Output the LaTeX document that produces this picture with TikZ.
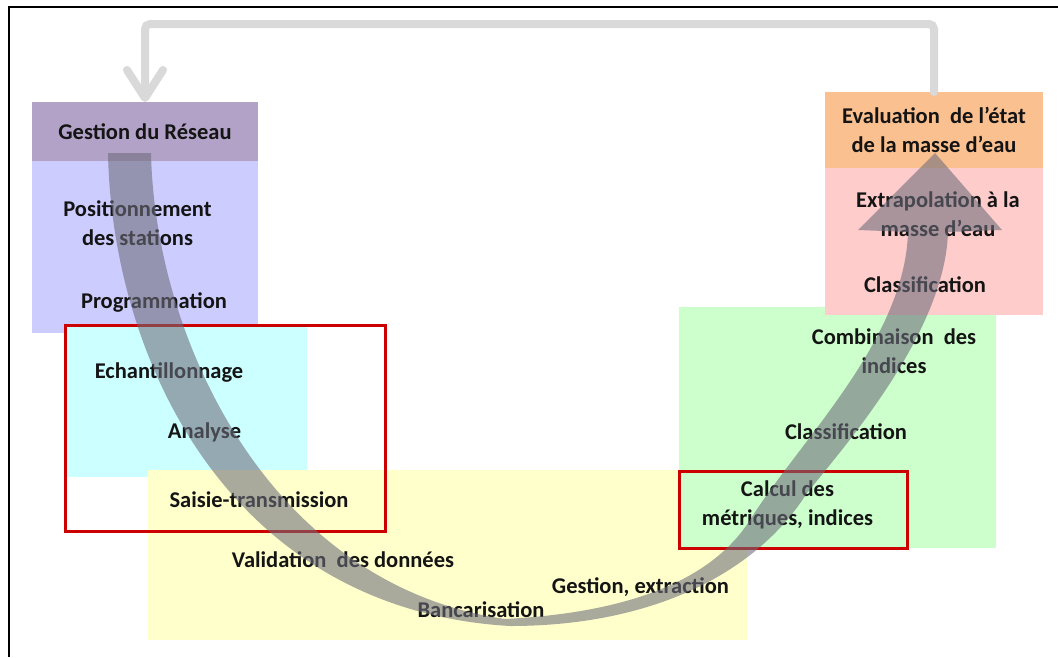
\documentclass[tikz,border=0pt]{standalone}
\usepackage{fontspec}
\setmainfont{Carlito}
\usetikzlibrary{arrows.meta}
\definecolor{cPurple}{HTML}{B3A2C7}
\definecolor{cLav}{HTML}{CCCCFF}
\definecolor{cCyan}{HTML}{CCFFFF}
\definecolor{cYellow}{HTML}{FFFFCC}
\definecolor{cGreen}{HTML}{CCFFCC}
\definecolor{cPink}{HTML}{FFCCCC}
\definecolor{cOrange}{HTML}{FAC090}
\definecolor{cRed}{HTML}{CC0000}
\definecolor{cFeed}{HTML}{D9D9D9}
\definecolor{cArrow}{RGB}{108,108,122}
\begin{document}
\begin{tikzpicture}[x=1pt,y=-1pt,
  zone/.style={draw=none,inner sep=0pt,outer sep=0pt,anchor=north west},
  lbl/.style={font=\bfseries\fontsize{22.5}{29}\selectfont,align=center,inner sep=0pt,text=black!92},
  redbox/.style={draw=cRed,line width=3pt,inner sep=0pt,outer sep=0pt,anchor=north west},
  feedback/.style={draw=cFeed,line width=8pt,rounded corners=5pt,line cap=round,
    -{Straight Barb[length=28pt,width=36pt,round]}},
  bigarrow/.style={fill=cArrow,fill opacity=0.58}]
\useasboundingbox (0,0) rectangle (1058,657);
\fill[white] (0,0) rectangle (1058,657);

% coloured zones
\node[zone,fill=cLav,minimum width=226pt,minimum height=172pt] (lav) at (32,161) {};
\node[zone,fill=cPurple,minimum width=226pt,minimum height=59pt,lbl,anchor=north west] (gest) at (32,102) {Gestion du Réseau};
\node[zone,fill=cCyan,minimum width=242pt,minimum height=150pt] (cyan) at (65,327) {};
\node[zone,fill=cYellow,minimum width=599pt,minimum height=170pt] (yel) at (148,470) {};
\node[zone,fill=cGreen,minimum width=317pt,minimum height=241pt] (grn) at (679,307) {};
\node[zone,fill=cPink,minimum width=218pt,minimum height=147pt] (pink) at (825,168) {};
\node[zone,fill=cOrange,minimum width=218pt,minimum height=76pt,lbl,anchor=north west] (eval) at (825,92) {Evaluation\ \ de l’état\\de la masse d’eau};

% labels
\node[lbl] (t1) at (137.5,223) {Positionnement\\des stations};
\node[lbl] (t2) at (154,302) {Programmation};
\node[lbl] (t3) at (169,372) {Echantillonnage};
\node[lbl] (t4) at (204.5,432) {Analyse};
\node[lbl] (t5) at (259,500) {Saisie-transmission};
\node[lbl] (t6) at (343,560) {Validation\ \ des données};
\node[lbl] (t7) at (481,610) {Bancarisation};
\node[lbl] (t8) at (640.5,587) {Gestion, extraction};
\node[lbl] (t9) at (787.5,505) {Calcul des\\métriques, indices};
\node[lbl] (t10) at (846,432) {Classification};
\node[lbl] (t11) at (894,351) {Combinaison\ \ des\\indices};
\node[lbl] (t12) at (925,285) {Classification};
\node[lbl] (t13) at (938,214) {Extrapolation à la\\masse d’eau};

% red frames
\node[redbox,minimum width=320pt,minimum height=206pt] (r1) at (65,325) {};
\node[redbox,minimum width=228pt,minimum height=77pt] (r2) at (679,471) {};

% big curved arrow
\fill[bigarrow] (108,153) .. controls (112,360) and (230,610) .. (510,626)
  .. controls (650,626) and (755,575) .. (807,493)
  .. controls (850,440) and (945,330) .. (948,232)
  -- (1002,230) -- (935,153) -- (858,230) -- (908,232)
  .. controls (905,340) and (800,440) .. (750,520)
  .. controls (715,575) and (640,612) .. (505,619)
  .. controls (270,585) and (155,340) .. (151,153) -- cycle;

% feedback arrow
\draw[feedback] (eval.north) -- ++(0,-68) -| (gest.north);

% outer frame
\draw[line width=2pt,black] (9,657) -- (9,7) -- (1058,7);
\end{tikzpicture}
\end{document}
